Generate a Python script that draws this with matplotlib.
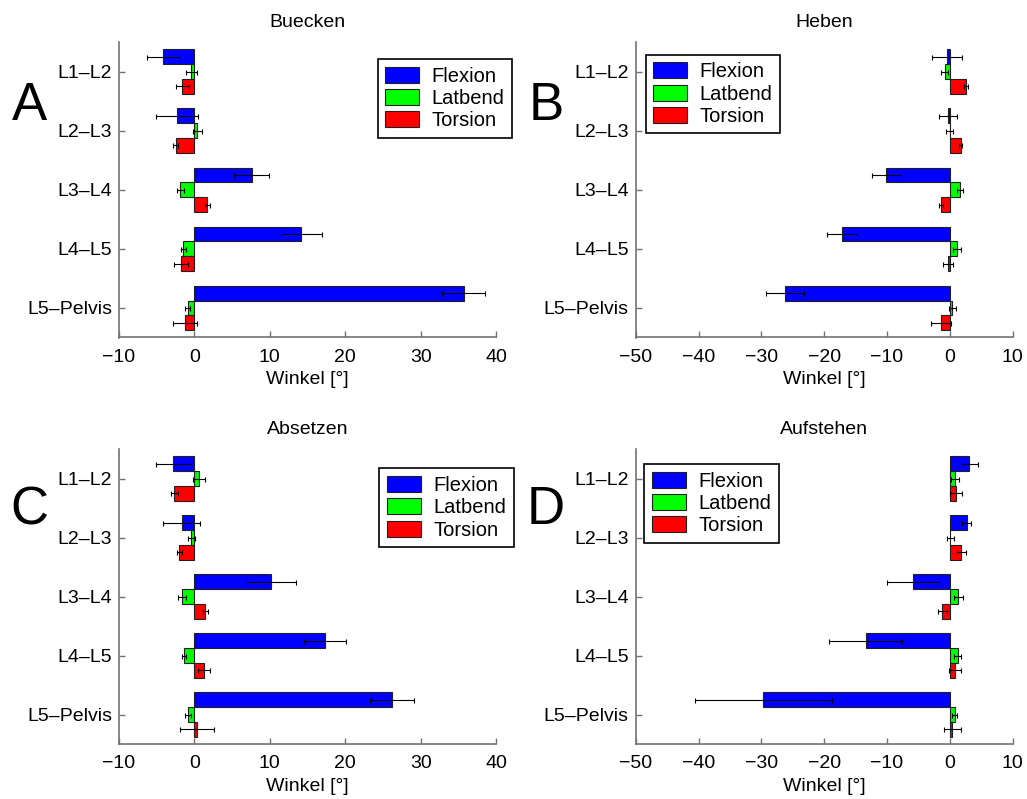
import matplotlib
matplotlib.use("Agg")
import matplotlib.pyplot as plt
import numpy as np

plt.rcParams['font.family'] = ['Liberation Sans', 'DejaVu Sans']

categories = ["L1–L2", "L2–L3", "L3–L4", "L4–L5", "L5–Pelvis"]
series_names = ["Flexion", "Latbend", "Torsion"]
series_colors = ["#0000ff", "#00ff00", "#ff0000"]

# Buecken (A)
buecken_flex = [-4.2, -2.3, 7.6, 14.2, 35.7]
buecken_flex_err = [2.1, 2.8, 2.3, 2.7, 2.8]
buecken_lat = [-0.4, 0.4, -1.85, -1.45, -0.9]
buecken_lat_err = [0.7, 0.55, 0.45, 0.3, 0.3]
buecken_tor = [-1.6, -2.5, 1.7, -1.8, -1.2]
buecken_tor_err = [0.9, 0.3, 0.35, 0.95, 1.6]

# Heben (B)
heben_flex = [-0.5, -0.3, -10.1, -17.2, -26.2]
heben_flex_err = [2.4, 1.5, 2.3, 2.4, 3.0]
heben_lat = [-0.85, -0.05, 1.6, 1.1, 0.4]
heben_lat_err = [0.5, 0.5, 0.5, 0.65, 0.5]
heben_tor = [2.6, 1.7, -1.45, -0.3, -1.4]
heben_tor_err = [0.35, 0.3, 0.3, 0.85, 1.6]

# Absetzen (C)
absetzen_flex = [-2.8, -1.7, 10.2, 17.3, 26.2]
absetzen_flex_err = [2.3, 2.5, 3.25, 2.8, 2.9]
absetzen_lat = [0.55, -0.4, -1.6, -1.4, -0.8]
absetzen_lat_err = [0.8, 0.5, 0.55, 0.3, 0.4]
absetzen_tor = [-2.65, -2.0, 1.45, 1.3, 0.35]
absetzen_tor_err = [0.5, 0.35, 0.35, 0.8, 2.2]

# Aufstehen (D)
aufstehen_flex = [3.1, 2.65, -5.9, -13.4, -29.7]
aufstehen_flex_err = [1.3, 0.7, 4.1, 5.8, 10.9]
aufstehen_lat = [0.8, 0.1, 1.35, 1.25, 0.8]
aufstehen_lat_err = [0.6, 0.5, 0.7, 0.6, 0.4]
aufstehen_tor = [1.0, 1.8, -1.2, 0.75, 0.4]
aufstehen_tor_err = [1.0, 0.7, 0.7, 0.95, 1.35]

titles = ["Buecken", "Heben", "Absetzen", "Aufstehen"]
panel_letters = ["A", "B", "C", "D"]
xlabel = "Winkel [°]"
xlims = [(-10, 40), (-50, 10), (-10, 40), (-50, 10)]
xticks = [[-10, 0, 10, 20, 30, 40], [-50, -40, -30, -20, -10, 0, 10],
          [-10, 0, 10, 20, 30, 40], [-50, -40, -30, -20, -10, 0, 10]]

panels = [
    (buecken_flex, buecken_flex_err, buecken_lat, buecken_lat_err, buecken_tor, buecken_tor_err),
    (heben_flex, heben_flex_err, heben_lat, heben_lat_err, heben_tor, heben_tor_err),
    (absetzen_flex, absetzen_flex_err, absetzen_lat, absetzen_lat_err, absetzen_tor, absetzen_tor_err),
    (aufstehen_flex, aufstehen_flex_err, aufstehen_lat, aufstehen_lat_err, aufstehen_tor, aufstehen_tor_err),
]

W, H = 1027, 799
fig = plt.figure(figsize=(W / 100, H / 100), dpi=100)

# axes rectangles in pixels: left, top, right, bottom
rects = [(119, 42, 496, 337.5), (635.7, 42, 1012.7, 337.5),
         (119, 449, 496, 744), (635.7, 449, 1012.7, 744)]
# legend placement (axes fraction, upper-left corner)
legend_anchor = [(0.686, 0.942), (0.0265, 0.957), (0.690, 0.934), (0.0230, 0.949)]
letter_pos = [(29, 119.5), (546, 119.5), (29, 524.5), (546, 524.5)]

spine_color = "0.45"
fs = 14
y = np.arange(1, len(categories) + 1)
offsets = [-0.25, 0.0, 0.25]

for i, data in enumerate(panels):
    l, t, r, b = rects[i]
    ax = fig.add_axes([l / W, 1 - b / H, (r - l) / W, (b - t) / H])
    vals = [data[0], data[2], data[4]]
    errs = [data[1], data[3], data[5]]
    handles = []
    for k in range(3):
        bars = ax.barh(y + offsets[k], vals[k], height=0.25, color=series_colors[k],
                       edgecolor="#202020", linewidth=0.8, label=series_names[k], zorder=2)
        handles.append(bars)
        ax.errorbar(vals[k], y + offsets[k], xerr=errs[k], fmt="none", ecolor="black",
                    elinewidth=0.8, capsize=1.8, capthick=0.8, zorder=3)
    ax.set_xlim(*xlims[i])
    ax.set_ylim(5.5, 0.5)
    ax.set_xticks(xticks[i])
    ax.set_yticks(y)
    ax.set_yticklabels(categories)
    ax.spines["top"].set_visible(False)
    ax.spines["right"].set_visible(False)
    for s in ("left", "bottom"):
        ax.spines[s].set_color(spine_color)
        ax.spines[s].set_linewidth(1.2)
    ax.tick_params(axis="both", direction="in", length=4, width=1.0, color=spine_color,
                   labelsize=fs, labelcolor="black")
    ax.tick_params(axis="x", pad=8)
    ax.tick_params(axis="y", pad=5)
    ax.set_xlabel(xlabel, fontsize=fs, labelpad=4)
    ax.set_title(titles[i], fontsize=fs, pad=11)
    leg = ax.legend(handles=handles, labels=series_names, loc="upper left",
                    bbox_to_anchor=legend_anchor[i], borderaxespad=0, fontsize=14.5,
                    frameon=True, fancybox=False, framealpha=1, edgecolor="black",
                    handlelength=1.69, handleheight=0.85, handletextpad=0.62,
                    labelspacing=0.16, borderpad=0.38)
    leg.get_frame().set_linewidth(1.2)
    leg.set_zorder(5)
    fig.text(letter_pos[i][0] / W, 1 - letter_pos[i][1] / H, panel_letters[i],
             fontsize=38, ha="center", va="baseline")

fig.savefig("out.png", dpi=100)
